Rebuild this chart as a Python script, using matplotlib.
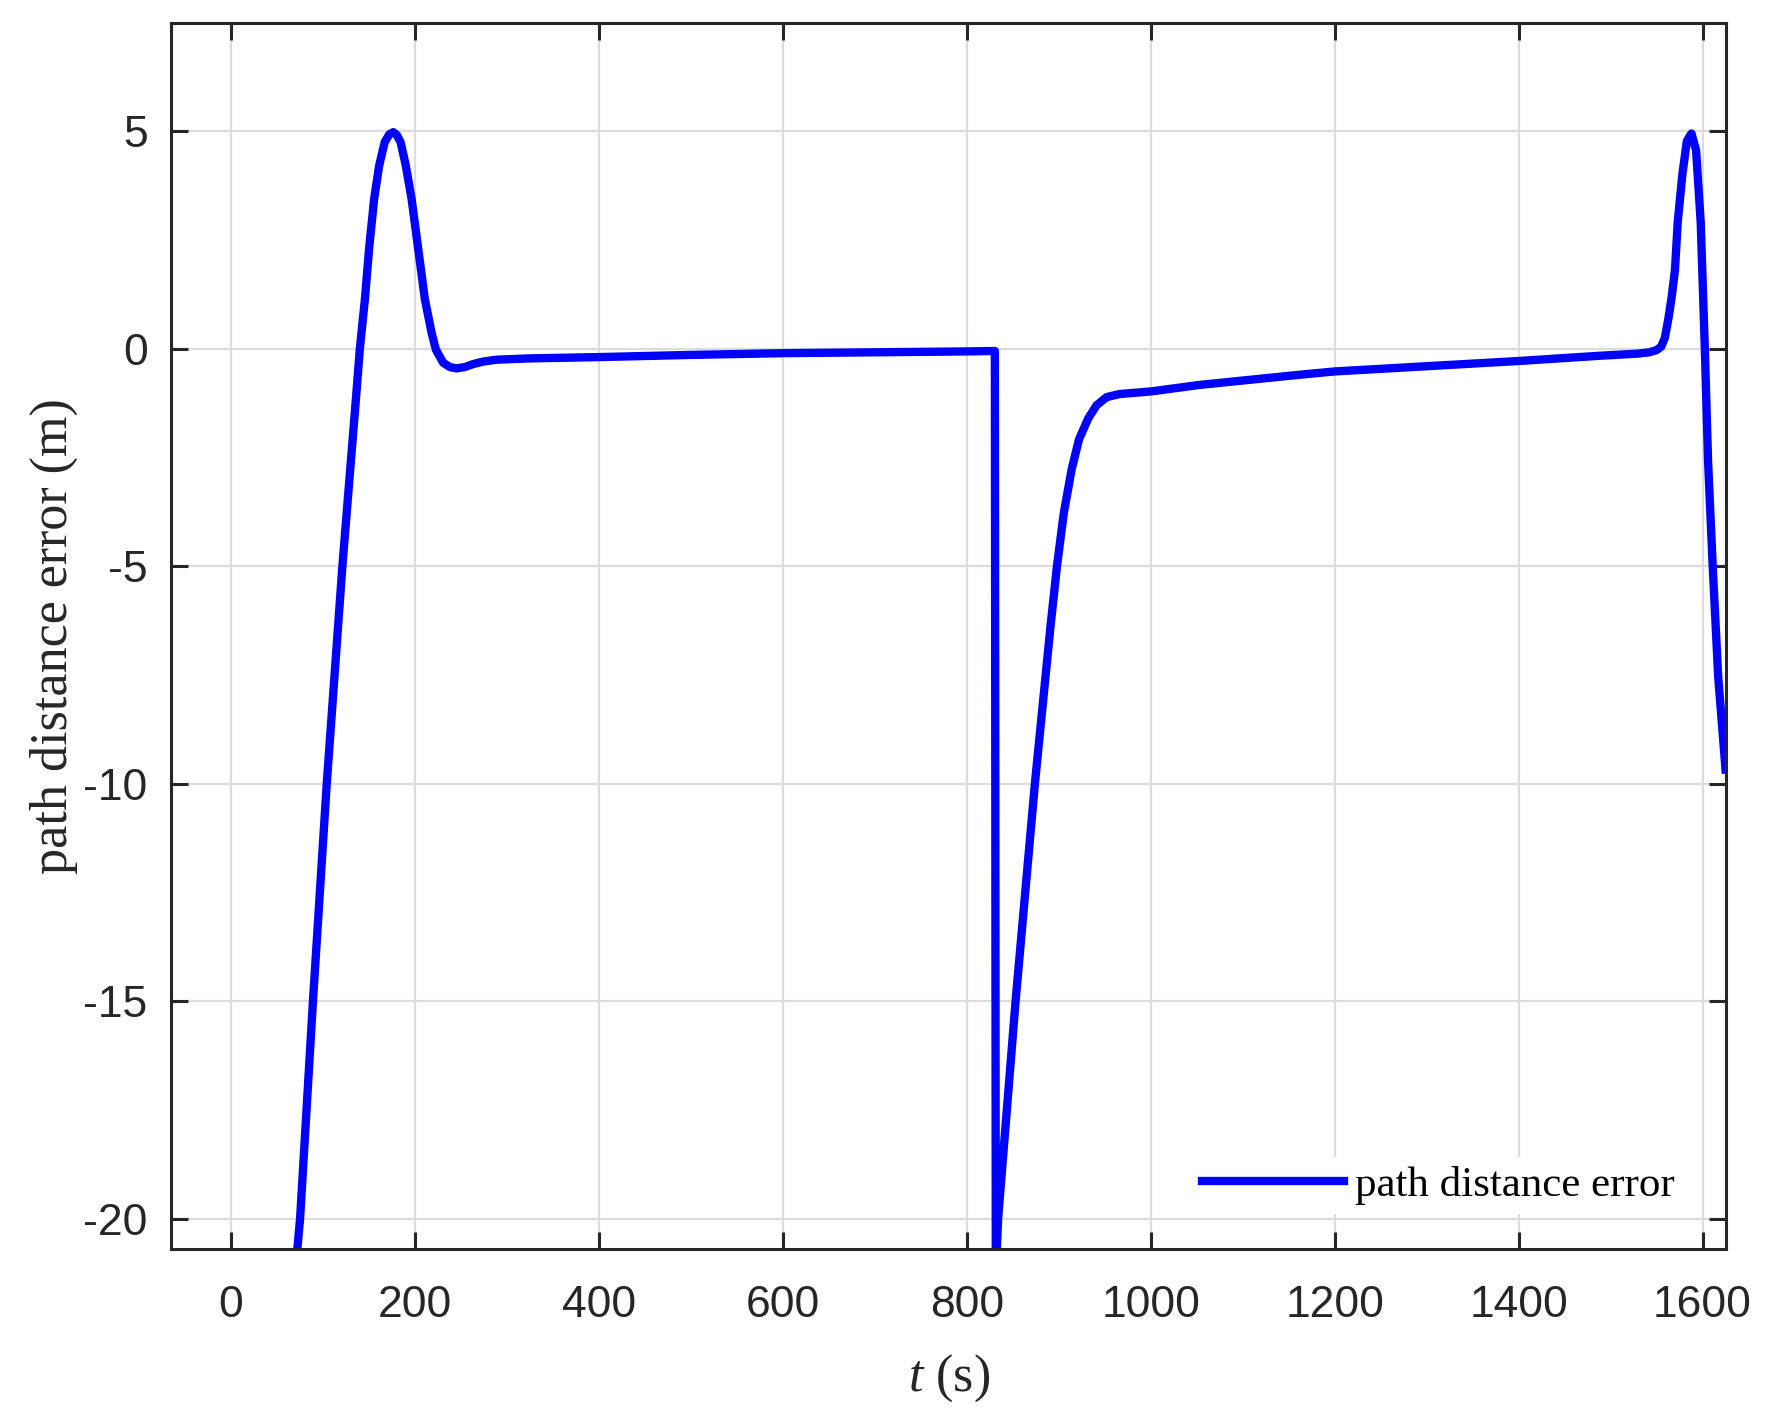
import matplotlib
matplotlib.use("Agg")
import matplotlib.pyplot as plt

#-------------------------------
# DATA
#-------------------------------
t_s = [62, 72, 75, 89, 104, 121, 136, 140, 145.5, 150, 155.5, 161, 167, 172, 176.3, 180, 184.3,
       190, 196.3, 203.5, 210.7, 218, 222.7, 230.6, 238, 245.2, 254, 263.2, 275, 288.7,
       325, 400, 500, 600, 700, 800, 830.5,
       831.5, 834, 853, 874, 891, 898, 905.5, 914, 922, 932, 941, 952, 966, 1000, 1053,
       1160, 1200, 1300, 1400, 1488, 1530, 1542, 1550, 1555, 1559, 1563, 1566.5, 1570,
       1573, 1578, 1583, 1588, 1593, 1598, 1602.5, 1606, 1611, 1617, 1625]
err_m = [-23.5, -20.7, -20.0, -15.0, -10.0, -5.0, -1.08, 0.0, 1.14, 2.29, 3.44, 4.21, 4.75,
         4.93, 4.98, 4.92, 4.75, 4.21, 3.44, 2.29, 1.14, 0.37, -0.02, -0.32, -0.42, -0.45,
         -0.42, -0.35, -0.29, -0.25, -0.22, -0.19, -0.14, -0.1, -0.08, -0.06, -0.05,
         -21.3, -20.0, -15.0, -10.0, -6.38, -5.0, -3.77, -2.77, -2.08, -1.6, -1.3, -1.11,
         -1.04, -0.98, -0.83, -0.6, -0.52, -0.4, -0.28, -0.16, -0.11, -0.08, -0.03, 0.05,
         0.25, 0.71, 1.2, 1.81, 2.91, 4.0, 4.78, 4.95, 4.56, 2.91, 0.0, -2.58, -4.97, -7.53,
         -9.67]

x_ticks = [0, 200, 400, 600, 800, 1000, 1200, 1400, 1600]
y_ticks = [-20, -15, -10, -5, 0, 5]

#-------------------------------
# STYLE
#-------------------------------
plt.rcParams['mathtext.fontset'] = 'custom'
plt.rcParams['mathtext.rm'] = 'Liberation Serif'
plt.rcParams['mathtext.it'] = 'Liberation Serif:italic'
plt.rcParams['axes.unicode_minus'] = False

dark = "#262626"

fig = plt.figure(figsize=(17.68, 14.17), dpi=100)
ax = fig.add_axes([0.0969, 0.1183, 0.8796, 0.8658])

ax.plot(t_s, err_m, color="#0000ff", linewidth=6, label="path distance error",
        solid_joinstyle="round")

ax.set_xlim(-65, 1626)
ax.set_ylim(-20.7, 7.5)
ax.set_xticks(x_ticks)
ax.set_yticks(y_ticks)

ax.grid(True, color="#dcdcdc", linewidth=1.6)
ax.set_axisbelow(True)

for sp in ax.spines.values():
    sp.set_color(dark)
    sp.set_linewidth(2.2)

ax.tick_params(direction="in", length=12, width=2.2, colors=dark,
               top=True, right=True, labelsize=32)
ax.tick_params(axis="x", pad=25.5)
ax.tick_params(axis="y", pad=17)
for lab in ax.get_xticklabels() + ax.get_yticklabels():
    lab.set_family("Liberation Sans")

ax.set_xlabel(r"$\it{t}$ (s)", fontsize=37.5, family="Liberation Serif", color=dark, labelpad=19)
ax.set_ylabel("path distance error (m)", fontsize=37.5, family="Liberation Serif", color=dark, labelpad=4)

# legend: white box, no edge, lower right
leg = ax.legend(loc="lower right", bbox_to_anchor=(0.972, 0.029),
                prop={"family": "Liberation Serif", "size": 31},
                frameon=True, framealpha=1, facecolor="white", edgecolor="none",
                handlelength=3.3, handletextpad=0.25, borderpad=0.2,
                borderaxespad=0, fancybox=False)

fig.savefig("out.png", dpi=100)
